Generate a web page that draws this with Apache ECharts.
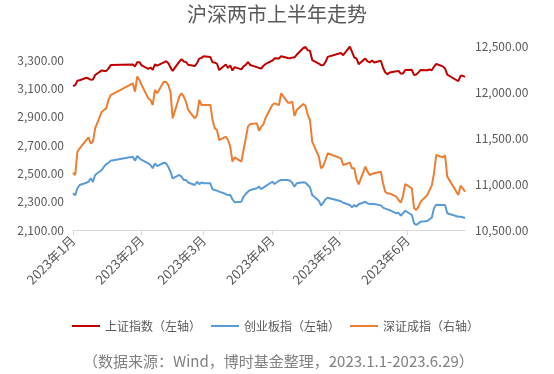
<!DOCTYPE html>
<html><head><meta charset="utf-8">
<script src="https://cdn.jsdelivr.net/npm/echarts@6/dist/echarts.min.js"></script>
<style>html,body{margin:0;padding:0;background:#fff}#c{width:554px;height:374px}</style>
</head><body><div id="c"></div>
<script>
const dates = ['2023-01-03','2023-01-04','2023-01-05','2023-01-06','2023-01-09','2023-01-10','2023-01-11','2023-01-12','2023-01-13','2023-01-16','2023-01-17','2023-01-18','2023-01-19','2023-01-20','2023-01-30','2023-01-31',
'2023-02-01','2023-02-02','2023-02-03','2023-02-06','2023-02-07','2023-02-08','2023-02-09','2023-02-10','2023-02-13','2023-02-14','2023-02-15','2023-02-16','2023-02-17','2023-02-20','2023-02-21','2023-02-22','2023-02-23','2023-02-24','2023-02-27','2023-02-28',
'2023-03-01','2023-03-02','2023-03-03','2023-03-06','2023-03-07','2023-03-08','2023-03-09','2023-03-10','2023-03-13','2023-03-14','2023-03-15','2023-03-16','2023-03-17','2023-03-20','2023-03-21','2023-03-22','2023-03-23','2023-03-24','2023-03-27','2023-03-28','2023-03-29','2023-03-30','2023-03-31',
'2023-04-03','2023-04-04','2023-04-06','2023-04-07','2023-04-10','2023-04-11','2023-04-12','2023-04-13','2023-04-14','2023-04-17','2023-04-18','2023-04-19','2023-04-20','2023-04-21','2023-04-24','2023-04-25','2023-04-26','2023-04-27','2023-04-28',
'2023-05-04','2023-05-05','2023-05-08','2023-05-09','2023-05-10','2023-05-11','2023-05-12','2023-05-15','2023-05-16','2023-05-17','2023-05-18','2023-05-19','2023-05-22','2023-05-23','2023-05-24','2023-05-25','2023-05-26','2023-05-29','2023-05-30','2023-05-31',
'2023-06-01','2023-06-02','2023-06-05','2023-06-06','2023-06-07','2023-06-08','2023-06-09','2023-06-12','2023-06-13','2023-06-14','2023-06-15','2023-06-16','2023-06-19','2023-06-20','2023-06-21','2023-06-26','2023-06-27','2023-06-28','2023-06-29'];

const sse = [3116,3123,3155,3158,3176,3170,3162,3163,3195,3228,3224,3224,3240,3265,3269,3256,
3285,3286,3263,3239,3248,3232,3270,3261,3284,3293,3280,3249,3224,3290,3307,3291,3287,3267,3258,3280,
3311,3316,3328,3322,3285,3283,3276,3230,3269,3245,3263,3227,3251,3235,3256,3266,3287,3266,3251,3245,3240,3261,3273,
3296,3313,3312,3328,3315,3314,3318,3319,3338,3386,3393,3370,3367,3301,3275,3265,3264,3286,3323,
3350,3335,3395,3358,3319,3310,3272,3311,3291,3284,3297,3284,3296,3246,3213,3201,3213,3221,3224,3205,
3205,3230,3232,3195,3198,3214,3231,3229,3234,3229,3253,3273,3256,3240,3198,3151,3189,3189,3182];

const cyb = [2359,2345,2395,2418,2434,2441,2465,2440,2489,2524,2547,2566,2575,2590,2618,2590,
2623,2607,2595,2571,2559,2536,2571,2552,2575,2571,2547,2512,2465,2489,2477,2453,2453,2436,2418,2441,
2424,2436,2430,2430,2387,2383,2378,2371,2354,2347,2347,2317,2296,2300,2335,2354,2371,2383,2395,2406,2390,2400,2410,
2441,2425,2448,2453,2453,2448,2434,2406,2430,2437,2434,2418,2402,2347,2307,2272,2293,2317,2328,
2303,2293,2277,2260,2277,2265,2282,2300,2288,2284,2284,2284,2274,2258,2251,2246,2241,2218,2222,2201,
2218,2236,2206,2147,2135,2147,2159,2164,2176,2187,2253,2279,2277,2277,2218,2194,2194,2190,2185];

const szc = [11123,11098,11351,11388,11478,11507,11442,11460,11605,11786,11804,11822,11913,11967,12094,12003,
12167,12130,12076,11931,11913,11859,12022,11986,12112,12110,12076,12003,11714,11950,11986,11950,11895,11805,11714,11750,
11913,11859,11859,11859,11696,11605,11587,11478,11514,11478,11406,11243,11290,11243,11370,11496,11623,11652,11659,11580,11620,11650,11720,
11859,11877,11859,11986,11884,11884,11895,11739,11804,11870,11848,11750,11696,11460,11297,11170,11196,11261,11334,
11279,11207,11232,11170,11170,11051,10996,11188,11134,11098,11109,11116,11134,11007,10916,10898,10898,10862,10826,10797,
10870,11000,10953,10736,10717,10754,10808,10880,10935,10982,11116,11315,11290,11312,11080,10880,10982,10953,10916];

const seriesNames = ['上证指数（左轴）','创业板指（左轴）','深证成指（右轴）'];
const leftTicks = [2100,2300,2500,2700,2900,3100,3300];
const rightTicks = [10500,11000,11500,12000,12500];
const monthTicks = ['2023-01-03','2023-02-03','2023-03-03','2023-04-03','2023-05-03','2023-06-03'];
const titleText = '沪深两市上半年走势';
const noteText = '（数据来源：Wind，博时基金整理，2023.1.1-2023.6.29）';

const FONT = '"Noto Sans CJK SC","Noto Sans",sans-serif';
const fmt = v => Number(v).toLocaleString('en-US',{minimumFractionDigits:2,maximumFractionDigits:2});
function ts(s){const p=s.split('-');return new Date(+p[0],+p[1]-1,+p[2]).getTime();}
const monthVals = monthTicks.map(ts);
const pairs = arr => dates.map((d,i)=>[ts(d),arr[i]]);

const chart = echarts.init(document.getElementById('c'),null,{renderer:'canvas'});
chart.setOption({
  animation:false,
  textStyle:{fontFamily:FONT},
  title:{text:titleText,left:'center',top:4,padding:0,
    textStyle:{fontSize:20,fontWeight:'normal',color:'#595959',fontFamily:FONT}},
  grid:{left:73,right:89,top:46,bottom:144},
  legend:{left:67,top:315,itemWidth:28,itemHeight:2,itemGap:10,icon:'rect',
    textStyle:{fontSize:12,color:'#595959',fontFamily:FONT},data:seriesNames},
  graphic:[{type:'text',left:83,top:354,
    style:{text:noteText,fontSize:15,fill:'#808080',fontFamily:FONT}}],
  xAxis:{type:'value',min:ts(dates[0]),max:ts(dates[dates.length-1]),
    axisLine:{show:true,lineStyle:{color:'#d9d9d9'}},
    axisTick:{show:true,length:5,lineStyle:{color:'#d9d9d9'},customValues:monthVals},
    splitLine:{show:false},
    axisLabel:{customValues:monthVals,rotate:45,fontSize:13,color:'#595959',margin:8,fontFamily:FONT,
      formatter:v=>{const d=new Date(v);return d.getFullYear()+'年'+(d.getMonth()+1)+'月';}}},
  yAxis:[
    {type:'value',min:2100,max:3400,interval:100,position:'left',
     axisLine:{show:false},axisTick:{show:false},splitLine:{show:false},
     axisLabel:{fontSize:12,color:'#595959',margin:9,fontFamily:FONT,
       formatter:v=>leftTicks.indexOf(v)>=0?fmt(v):''}},
    {type:'value',min:10500,max:12500,interval:500,position:'right',
     axisLine:{show:false},axisTick:{show:false},splitLine:{show:false},
     axisLabel:{fontSize:12,color:'#595959',margin:10,fontFamily:FONT,
       formatter:v=>rightTicks.indexOf(v)>=0?fmt(v):''}}
  ],
  series:[
    {name:seriesNames[0],type:'line',yAxisIndex:0,symbol:'none',data:pairs(sse),
     lineStyle:{width:2,color:'#C00000'},itemStyle:{color:'#C00000'}},
    {name:seriesNames[1],type:'line',yAxisIndex:0,symbol:'none',data:pairs(cyb),
     lineStyle:{width:2,color:'#5B9BD5'},itemStyle:{color:'#5B9BD5'}},
    {name:seriesNames[2],type:'line',yAxisIndex:1,symbol:'none',data:pairs(szc),
     lineStyle:{width:2,color:'#ED7D31'},itemStyle:{color:'#ED7D31'}}
  ]
});
</script></body></html>
